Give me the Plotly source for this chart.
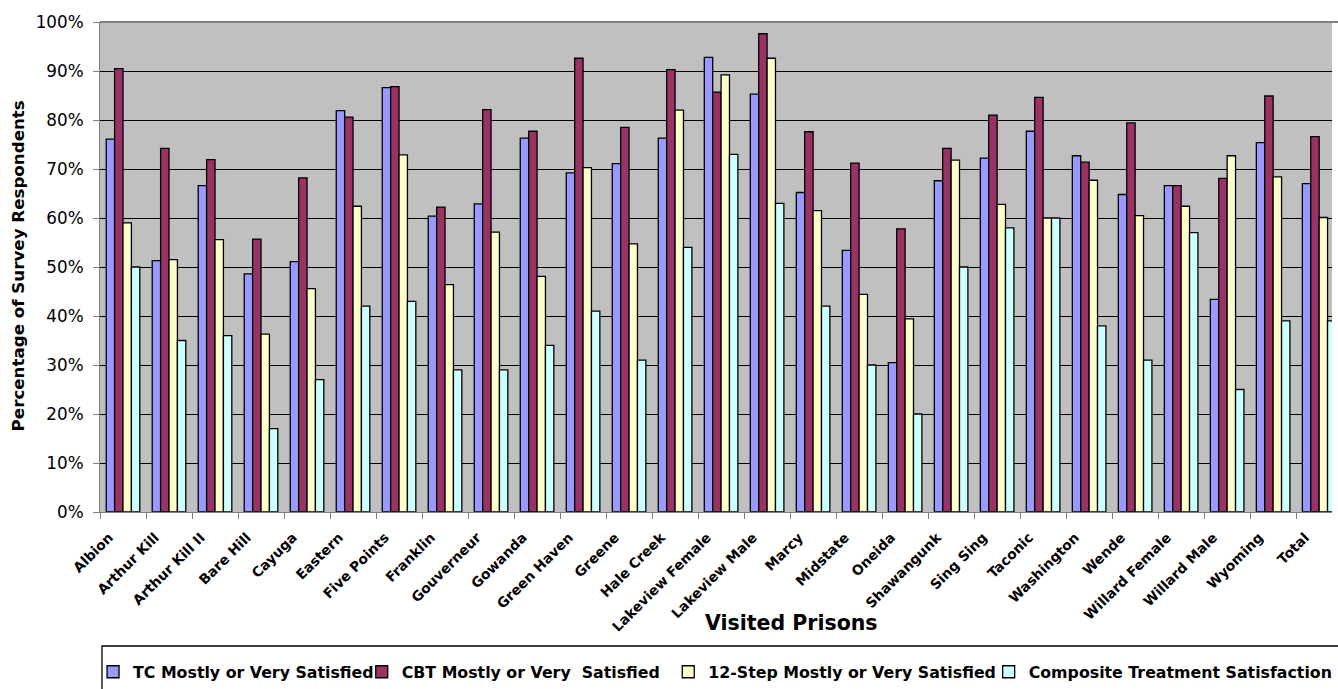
import plotly.graph_objects as go

prisons = ["Albion", "Arthur Kill", "Arthur Kill II", "Bare Hill", "Cayuga", "Eastern",
           "Five Points", "Franklin", "Gouverneur", "Gowanda", "Green Haven", "Greene",
           "Hale Creek", "Lakeview Female", "Lakeview Male", "Marcy", "Midstate", "Oneida",
           "Shawangunk", "Sing Sing", "Taconic", "Washington", "Wende", "Willard Female",
           "Willard Male", "Wyoming", "Total"]

tc_satisfied = [76.1, 51.3, 66.6, 48.6, 51.1, 81.9, 86.6, 60.4, 62.9, 76.3, 69.2, 71.1,
                76.3, 92.8, 85.3, 65.2, 53.4, 30.5, 67.6, 72.2, 77.7, 72.7, 64.8, 66.6,
                43.4, 75.4, 67.0]
cbt_satisfied = [90.5, 74.2, 71.9, 55.7, 68.2, 80.6, 86.8, 62.2, 82.1, 77.7, 92.6, 78.5,
                 90.3, 85.7, 97.6, 77.6, 71.2, 57.8, 74.2, 81.0, 84.6, 71.4, 79.4, 66.6,
                 68.1, 84.9, 76.6]
step12_satisfied = [59.0, 51.5, 55.6, 36.3, 45.6, 62.4, 72.9, 46.4, 57.1, 48.1, 70.3, 54.7,
                    82.0, 89.2, 92.6, 61.5, 44.4, 39.4, 71.8, 62.8, 60.0, 67.7, 60.5, 62.4,
                    72.7, 68.4, 60.1]
composite = [50, 35, 36, 17, 27, 42, 43, 29, 29, 34, 41, 31, 54, 73, 63, 42, 30, 20,
             50, 58, 60, 38, 31, 57, 25, 39, 39]

series_names = ["TC Mostly or Very Satisfied",
                "CBT Mostly or Very\u00a0 Satisfied",
                "12-Step Mostly or Very Satisfied",
                "Composite Treatment Satisfaction"]
series_values = [tc_satisfied, cbt_satisfied, step12_satisfied, composite]
series_colors = ["#9999FF", "#993366", "#FFFFCC", "#CCFFFF"]
legend_text_x = [127, 397, 705, 1027]   # pixel where each legend label starts

W, H = 1338, 689
L, T, B = 100, 22, 512
PW, PH = W - L, B - T
CAT_W = 46.23


def px(xp):
    return (xp - L) / PW


def py(yp):
    return (B - yp) / PH


font_family = "DejaVu Sans, Liberation Sans, Arial, sans-serif"

fig = go.Figure()
legend_ids = ["legend", "legend2", "legend3", "legend4"]
for name, vals, color, lid in zip(series_names, series_values, series_colors, legend_ids):
    fig.add_trace(go.Bar(
        x=prisons, y=[v / 100 for v in vals], name=name, legend=lid,
        marker=dict(color=color, line=dict(color="black", width=1.3)),
    ))

legend_common = dict(
    orientation="h",
    yanchor="middle",
    y=py(672),
    xanchor="left",
    font=dict(size=15.8, family=font_family, weight="bold", color="black"),
    bgcolor="rgba(0,0,0,0)",
    itemwidth=30,
)
legends = {}
for lid, tx in zip(legend_ids, legend_text_x):
    legends[lid] = dict(legend_common, x=px(tx - 34))

fig.update_layout(
    width=W, height=H,
    margin=dict(l=L, r=0, t=T, b=H - B, pad=0),
    paper_bgcolor="white",
    plot_bgcolor="#C0C0C0",
    barmode="group",
    bargap=0.27,
    bargroupgap=0,
    font=dict(family=font_family, color="black"),
    showlegend=True,
    xaxis=dict(
        type="category",
        range=[-0.5, (W - L) / CAT_W - 0.5],
        tickangle=-45,
        tickfont=dict(size=13.8, family=font_family, weight="bold", color="black"),
        ticks="outside", ticklen=6, tickcolor="#808080",
        tickson="boundaries",
        ticklabelstandoff=11,
        ticklabelshift=-14,
        showline=True, linecolor="#808080", linewidth=1,
        showgrid=False,
        fixedrange=True,
    ),
    yaxis=dict(
        range=[0, 1],
        dtick=0.1,
        tickformat=".0%",
        tickfont=dict(size=16.8, family=font_family, color="black"),
        ticks="outside", ticklen=6, tickcolor="#808080",
        ticklabelstandoff=6,
        showline=True, linecolor="#808080", linewidth=1,
        showgrid=True, gridcolor="black", gridwidth=1,
        zeroline=False,
        fixedrange=True,
    ),
    shapes=[
        dict(type="line", xref="paper", yref="paper", x0=0, x1=1.02, y0=1, y1=1,
             line=dict(color="#808080", width=2)),
        dict(type="rect", xref="paper", yref="paper",
             x0=px(102), x1=px(1350), y0=py(646), y1=py(710),
             line=dict(color="black", width=1.3), fillcolor="rgba(0,0,0,0)"),
    ],
    annotations=[
        dict(text="<b>Percentage of Survey Respondents</b>", textangle=-90,
             xref="paper", yref="paper", x=px(18), y=py(266),
             xanchor="center", yanchor="middle", showarrow=False,
             font=dict(size=16.7, family=font_family, color="black")),
        dict(text="<b>Visited Prisons</b>",
             xref="paper", yref="paper", x=px(795), y=py(623),
             xanchor="center", yanchor="middle", showarrow=False,
             font=dict(size=20.5, family=font_family, color="black")),
    ],
    **legends,
)

fig.write_html(
    "out.html",
    config={"displayModeBar": False},
    post_script="document.body.style.margin='0';document.body.style.overflow='hidden';",
)
